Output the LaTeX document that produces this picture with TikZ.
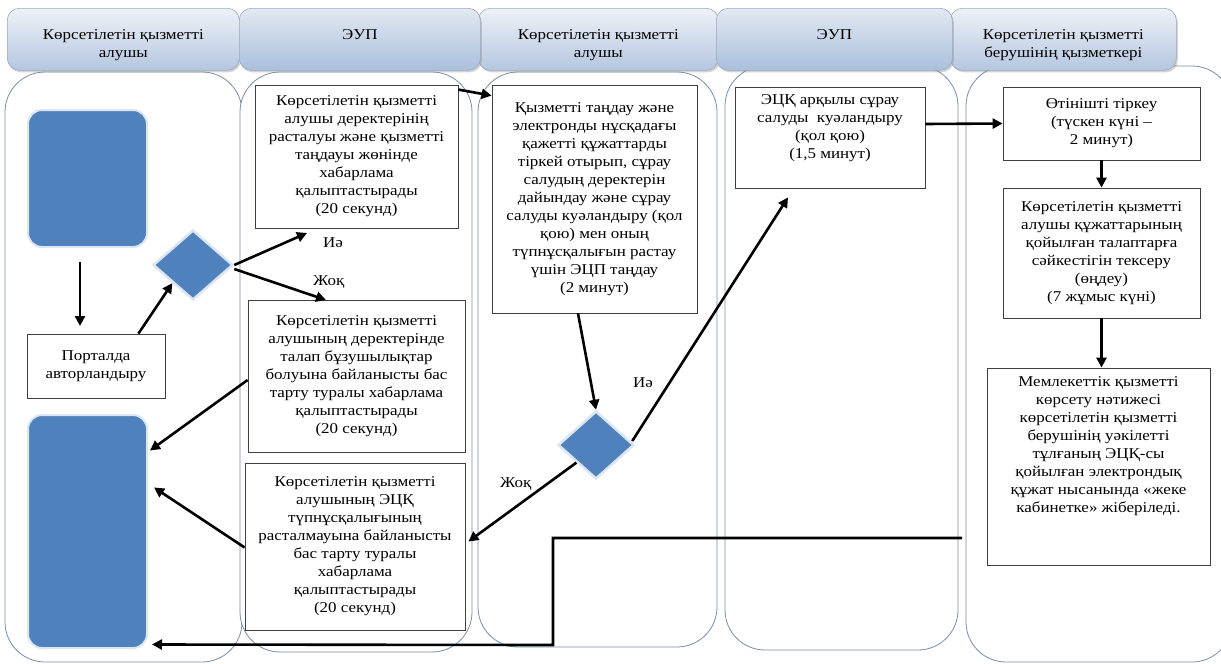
\documentclass[tikz,border=0pt]{standalone}
\usepackage{fontspec}
\setmainfont{Liberation Serif}[FakeStretch=1.13]
\usetikzlibrary{arrows.meta,shapes.geometric,shadows}
\definecolor{lanec}{HTML}{7A8DAA}
\definecolor{tabtop}{HTML}{EEF2F8}
\definecolor{tabbot}{HTML}{B4C6DE}
\definecolor{tabtopb}{HTML}{E2E9F2}
\definecolor{tabbotb}{HTML}{A9BFDB}
\definecolor{tabborder}{HTML}{9AAAC2}
\definecolor{bluef}{HTML}{4F81BD}
\definecolor{blueedge}{HTML}{DCE6F2}
\definecolor{boxc}{HTML}{404040}
\newcommand\btxt{\fontsize{15}{18}\selectfont}
\newcommand\htxt{\fontsize{15}{18.3}\selectfont}
\begin{document}
\begin{tikzpicture}[x=1pt,y=-1pt,
  lane/.style={draw=lanec, line width=0.8pt, rounded corners=40pt, fill=white},
  tab/.style={draw=tabborder, line width=0.6pt, rounded corners=12pt, top color=tabtop, bottom color=tabbot, drop shadow={shadow xshift=1.5pt,shadow yshift=-2pt,opacity=0.35}, inner sep=0pt},
  tabb/.style={tab, top color=tabtopb, bottom color=tabbotb},
  htext/.style={font=\htxt, align=center, anchor=north, inner sep=0pt},
  box/.style={draw=boxc, line width=0.8pt, fill=white, align=center, font=\btxt, inner sep=2pt},
  bluebox/.style={fill=bluef, draw=blueedge, line width=2pt, rounded corners=14pt, inner sep=0pt},
  dia/.style={diamond, fill=bluef, draw=blueedge, line width=2.5pt, inner sep=0pt},
  arr/.style={line width=2.6pt, -{Triangle[length=10pt,width=10pt]}},
  lbl/.style={font=\btxt, inner sep=0pt}
]
\useasboundingbox (0,0) rectangle (1221,664);
% lanes
\draw[lane] (5,72) rectangle (242,662);
\draw[lane] (240,72) rectangle (472,652);
\draw[lane] (478,72) rectangle (717,647);
\draw[lane] (725,66) rectangle (958,650);
\draw[lane] (966,66) rectangle (1232,662);
% header tabs
\node[tab, anchor=north west, minimum width=232pt, minimum height=62pt] (t1) at (7,8) {};
\node[tab, anchor=north west, minimum width=240pt, minimum height=62pt] (t3) at (478,8) {};
\node[tab, anchor=north west, minimum width=226pt, minimum height=62pt] (t5) at (950,8) {};
\node[tabb, anchor=north west, minimum width=241pt, minimum height=62pt] (t2) at (239,8) {};
\node[tabb, anchor=north west, minimum width=236pt, minimum height=62pt] (t4) at (716,8) {};
\node[htext] (h1) at ([yshift=-21pt]t1.north) {Көрсетілетін қызметті\\алушы};
\node[htext] (h2) at ([yshift=-21pt]t2.north) {ЭУП};
\node[htext] (h3) at ([yshift=-21pt]t3.north) {Көрсетілетін қызметті\\алушы};
\node[htext] (h4) at ([yshift=-21pt]t4.north) {ЭУП};
\node[htext] (h5) at ([yshift=-21pt]t5.north) {Көрсетілетін қызметті\\берушінің қызметкері};
% blue shapes
\node[bluebox, minimum width=119pt, minimum height=137pt] (s1) at (87.5,178.5) {};
\node[bluebox, minimum width=119pt, minimum height=233pt] (bt) at (87.5,531.5) {};
\node[dia, minimum width=80pt, minimum height=70pt] (d1) at (193,265) {};
\node[dia, minimum width=76pt, minimum height=68pt] (d2) at (596,445) {};
% boxes
\node[box, minimum width=138pt, minimum height=64pt] (P) at (96,366) {Порталда\\авторландыру};
\node[box, minimum width=203pt, minimum height=143pt] (A) at (356.5,156.5) {Көрсетілетін қызметті\\алушы деректерінің\\расталуы және қызметті\\таңдауы жөнінде\\хабарлама\\қалыптастырады\\(20 секунд)};
\node[box, minimum width=217pt, minimum height=152pt] (B) at (356.5,376) {Көрсетілетін қызметті\\алушының деректерінде\\талап бұзушылықтар\\болуына байланысты бас\\тарту туралы хабарлама\\қалыптастырады\\(20 секунд)};
\node[box, minimum width=220pt, minimum height=167pt] (C) at (355,546.5) {Көрсетілетін қызметті\\алушының ЭЦҚ\\түпнұсқалығының\\расталмауына байланысты\\бас тарту туралы\\хабарлама\\қалыптастырады\\(20 секунд)};
\node[box, minimum width=205pt, minimum height=228pt] (D) at (594.5,199) {Қызметті таңдау және\\электронды нұсқадағы\\қажетті құжаттарды\\тіркей отырып, сұрау\\салудың деректерін\\дайындау және сұрау\\салуды куәландыру (қол\\қою) мен оның\\түпнұсқалығын растау\\үшін ЭЦП таңдау\\(2 минут)};
\node[box, minimum width=190pt, minimum height=101pt] (E) at (830,137.5) {};
\node[htext, font=\btxt] (Et) at ([yshift=-8pt]E.north) {ЭЦҚ арқылы сұрау\\салуды~ куәландыру\\(қол қою)\\(1,5 минут)};
\node[box, minimum width=197pt, minimum height=73pt] (F) at (1101.5,123.5) {Өтінішті тіркеу\\(түскен күні –\\2 минут)};
\node[box, minimum width=197pt, minimum height=130pt] (G) at (1101.5,253) {Көрсетілетін қызметті\\алушы құжаттарының\\қойылған талаптарға\\сәйкестігін тексеру\\(өңдеу)\\(7 жұмыс күні)};
\node[box, minimum width=223pt, minimum height=197pt] (H) at (1098.5,466.5) {};
\node[htext, font=\btxt] (Ht) at ([yshift=-9pt]H.north) {Мемлекеттік қызметті\\көрсету нәтижесі\\көрсетілетін қызметті\\берушінің уәкілетті\\тұлғаның ЭЦҚ-сы\\қойылған электрондық\\құжат нысанында «жеке\\кабинетке» жіберіледі.};
% free-end coordinates
\coordinate (a1s) at (80,262);
\coordinate (a1e) at (80,326);
\coordinate (yes1) at (307,233);
\coordinate (no1) at (326,300);
\coordinate (stepS) at (962,538);
\coordinate (stepA) at (553,538);
\coordinate (stepB) at (553,645);
% connectors
\draw[arr] (a1s) -- (a1e);
\draw[arr] ([xshift=-27pt]P.north east) -- (d1.south west);
\draw[arr] (d1.east) -- (yes1);
\draw[arr] ([yshift=-4pt]d1.east) -- (no1);
\node[lbl, anchor=west] (l1) at (323,243) {Иә};
\node[lbl, anchor=west] (l2) at (313,282) {Жоқ};
\draw[arr] ([yshift=-4pt]B.west) -- ([xshift=2pt,yshift=81pt]bt.east);
\draw[arr] ([yshift=-1pt]C.west) -- ([xshift=6pt,yshift=44pt]bt.east);
\draw[arr] ([yshift=-5pt]A.north east) -- ([yshift=-11pt]D.north west);
\draw[arr] ([xshift=-16.5pt]D.south) -- (d2.north);
\draw[arr] ([xshift=-3pt,yshift=4pt]d2.east) -- ([xshift=-42pt,yshift=-9pt]E.south);
\draw[arr] (d2.south west) -- ([xshift=3pt,yshift=5pt]C.east);
\node[lbl, anchor=west] (l3) at (633,383) {Иә};
\node[lbl, anchor=west] (l4) at (500,484) {Жоқ};
\draw[arr] ([yshift=13.5pt]E.east) -- (F.west);
\draw[arr] (F.south) -- (F.south |- G.north);
\draw[arr] (G.south) -- (G.south |- H.north);
\draw[arr] (stepS) -- (stepA) -- (stepB) -- ([xshift=4pt,yshift=-113pt]bt.east);
\end{tikzpicture}
\end{document}
